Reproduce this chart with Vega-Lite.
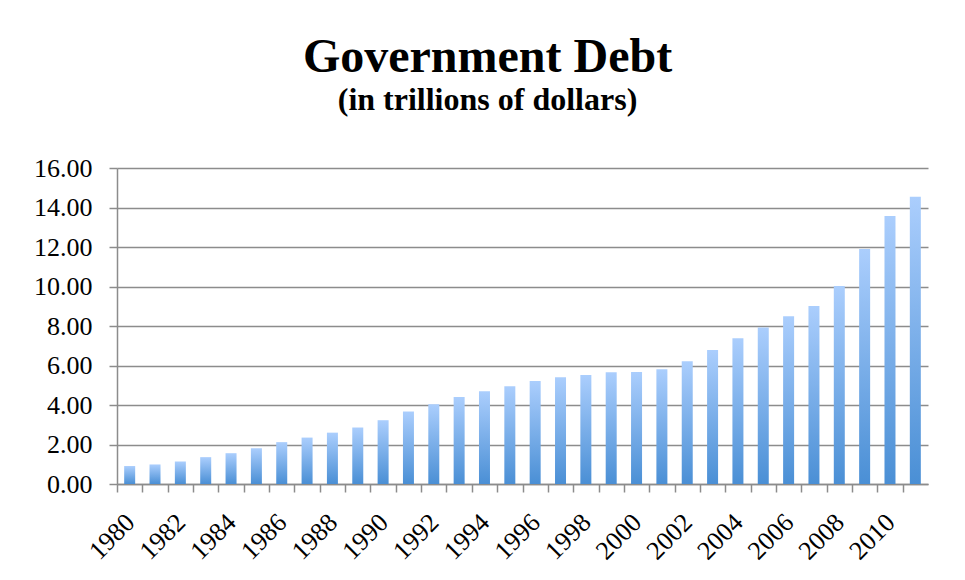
{
  "$schema": "https://vega.github.io/schema/vega-lite/v6.json",
  "width": 811,
  "height": 316,
  "autosize": "none",
  "padding": {"left": 117, "top": 168, "right": 37, "bottom": 96},
  "background": "white",
  "title": {
    "text": "Government Debt",
    "subtitle": "(in trillions of dollars)",
    "font": "Liberation Serif",
    "fontSize": 48,
    "fontWeight": "bold",
    "color": "black",
    "subtitleFont": "Liberation Serif",
    "subtitleFontSize": 32,
    "subtitleFontWeight": "bold",
    "subtitleColor": "black",
    "subtitlePadding": 3,
    "anchor": "middle",
    "dx": -35,
    "offset": 39
  },
  "data": {
    "values": [
      {"year": 1980, "debt": 0.91},
      {"year": 1981, "debt": 0.99},
      {"year": 1982, "debt": 1.14},
      {"year": 1983, "debt": 1.36},
      {"year": 1984, "debt": 1.56},
      {"year": 1985, "debt": 1.81},
      {"year": 1986, "debt": 2.12},
      {"year": 1987, "debt": 2.35},
      {"year": 1988, "debt": 2.60},
      {"year": 1989, "debt": 2.86},
      {"year": 1990, "debt": 3.23},
      {"year": 1991, "debt": 3.67},
      {"year": 1992, "debt": 4.04},
      {"year": 1993, "debt": 4.40},
      {"year": 1994, "debt": 4.69},
      {"year": 1995, "debt": 4.95},
      {"year": 1996, "debt": 5.21},
      {"year": 1997, "debt": 5.41},
      {"year": 1998, "debt": 5.52},
      {"year": 1999, "debt": 5.66},
      {"year": 2000, "debt": 5.67},
      {"year": 2001, "debt": 5.81},
      {"year": 2002, "debt": 6.22},
      {"year": 2003, "debt": 6.78},
      {"year": 2004, "debt": 7.38},
      {"year": 2005, "debt": 7.93},
      {"year": 2006, "debt": 8.50},
      {"year": 2007, "debt": 9.01},
      {"year": 2008, "debt": 10.02},
      {"year": 2009, "debt": 11.90},
      {"year": 2010, "debt": 13.57},
      {"year": 2011, "debt": 14.54}
    ]
  },
  "mark": {
    "type": "bar",
    "color": {
      "gradient": "linear",
      "x1": 0, "y1": 1, "x2": 0, "y2": 0,
      "stops": [
        {"offset": 0, "color": "#4a8fd5"},
        {"offset": 1, "color": "#abcefd"}
      ]
    }
  },
  "encoding": {
    "x": {
      "field": "year",
      "type": "ordinal",
      "scale": {"paddingInner": 0.566, "paddingOuter": 0.283},
      "axis": {
        "title": null,
        "grid": false,
        "labelAngle": -45,
        "labelAlign": "right",
        "labelBaseline": "middle",
        "labelExpr": "datum.value % 2 == 0 ? datum.label : ''",
        "labelOverlap": false,
        "labelFont": "Liberation Serif",
        "labelFontSize": 26,
        "labelColor": "black",
        "labelPadding": 26,
        "tickOffset": -12.67,
        "labelOffset": 13,
        "tickSize": 8,
        "tickWidth": 1.5,
        "tickColor": "#8c8c8c",
        "domainColor": "#8c8c8c",
        "domainWidth": 1.5
      }
    },
    "y": {
      "field": "debt",
      "type": "quantitative",
      "scale": {"domain": [0, 16]},
      "axis": {
        "title": null,
        "values": [0, 2, 4, 6, 8, 10, 12, 14, 16],
        "format": ".2f",
        "labelFont": "Liberation Serif",
        "labelFontSize": 26,
        "labelColor": "black",
        "labelPadding": 17,
        "grid": true,
        "gridColor": "#8c8c8c",
        "gridWidth": 1.5,
        "tickSize": 8,
        "tickWidth": 1.5,
        "tickColor": "#8c8c8c",
        "domainColor": "#8c8c8c",
        "domainWidth": 1.5
      }
    }
  },
  "config": {"view": {"stroke": null}}
}
